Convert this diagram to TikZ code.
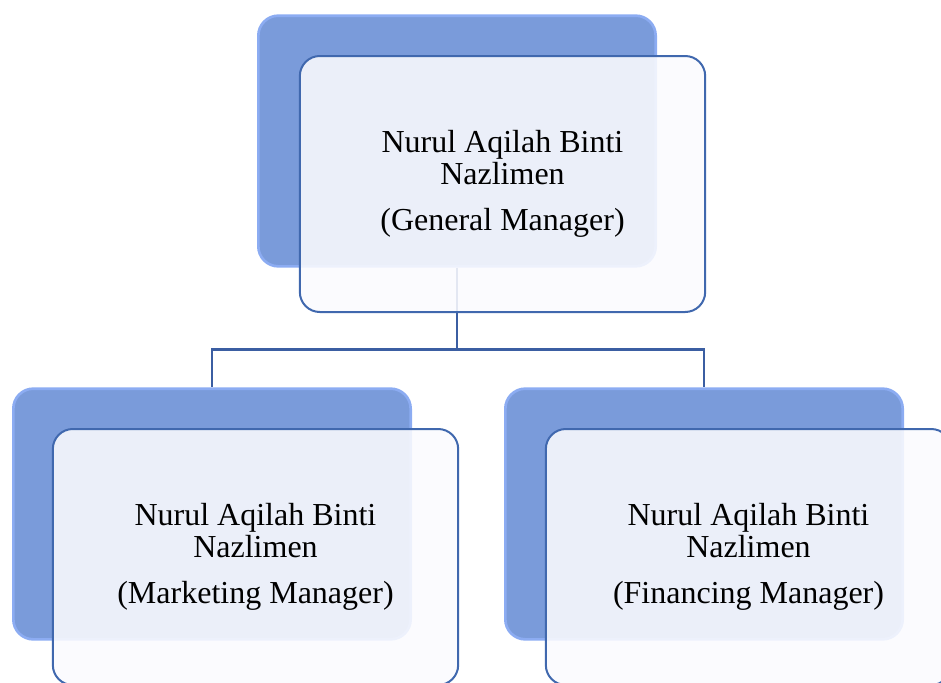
\documentclass[tikz,border=0pt]{standalone}
\usepackage{fontspec}
\setmainfont{Liberation Serif}
\usetikzlibrary{positioning, calc}

\definecolor{backfill}{HTML}{7A9BDA}
\definecolor{backedge}{HTML}{8CACF2}
\definecolor{frontfill}{HTML}{FBFBFE}
\definecolor{frontedge}{HTML}{4068AE}
\definecolor{linkcol}{HTML}{3B5EA2}

\begin{document}
\begin{tikzpicture}[
    x=0.75pt, y=-0.75pt,
    backbox/.style={draw=backedge, line width=2pt, rounded corners=15pt,
                    fill=backfill,
                    minimum width=298pt, minimum height=188pt},
    frontbox/.style={draw=frontedge, line width=1.5pt, rounded corners=15pt,
                     fill=frontfill, fill opacity=0.88, text opacity=1,
                     minimum width=304pt, minimum height=192pt,
                     align=center, font=\fontsize{24}{24}\selectfont},
    link/.style={draw=linkcol, line width=1.8pt}
  ]
  \useasboundingbox (0,0) rectangle (941,682);

  % Back panels
  \node[backbox] (gm_back) at (457,141) {};
  \node[backbox] (mm_back) at (212,514) {};
  \node[backbox] (fm_back) at (704,514) {};

  % Links
  \draw[link] (gm_back.south) -- ++(0,82) -| (mm_back.north);
  \draw[link] (gm_back.south) -- ++(0,82) -| (fm_back.north);

  % Front panels
  \node[frontbox] (gm) at ($(gm_back)+(45.5,43)$)
    {Nurul Aqilah Binti\\Nazlimen\\[10pt](General Manager)};
  \node[frontbox] (mm) at ($(mm_back)+(43.5,43)$)
    {Nurul Aqilah Binti\\Nazlimen\\[10pt](Marketing Manager)};
  \node[frontbox] (fm) at ($(fm_back)+(44.5,43)$)
    {Nurul Aqilah Binti\\Nazlimen\\[10pt](Financing Manager)};

\end{tikzpicture}
\end{document}
